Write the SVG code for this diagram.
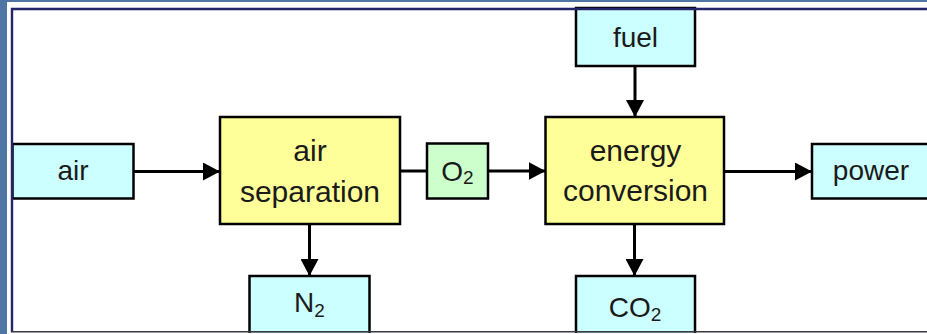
<svg xmlns="http://www.w3.org/2000/svg" width="927" height="334" viewBox="0 0 927 334">
  <defs>
    <style>
      .box { stroke: #000; stroke-width: 2.5; }
      .src { fill: #ccffff; }
      .proc { fill: #ffff99; }
      .gas { fill: #ccffcc; }
      .lbl { font-family: "Liberation Sans", Arial, sans-serif; fill: #1a1a1a; text-anchor: middle; }
      .big { font-size: 30px; }
      .small { font-size: 28px; }
      .sub { font-size: 19px; }
      .wire { stroke: #000; stroke-width: 3; fill: none; }
    </style>
    <marker id="arrow" markerUnits="userSpaceOnUse" markerWidth="18" markerHeight="18" viewBox="0 0 18 18" refX="17" refY="9" orient="auto">
      <path d="M0,0 L17,9 L0,18 Z" fill="#000"/>
    </marker>
  </defs>

  <!-- slide background and page -->
  <rect x="0" y="0" width="927" height="334" fill="#4f75a5"/>
  <rect x="7" y="2" width="920" height="332" fill="#fdfdfd"/>
  <rect x="11" y="9" width="916" height="323" fill="#ffffff"/>

  <!-- connectors -->
  <g id="connectors">
    <line class="wire" x1="133" y1="171.5" x2="220" y2="171.5" marker-end="url(#arrow)"/>
    <line class="wire" x1="400" y1="171" x2="427" y2="171"/>
    <line class="wire" x1="488" y1="171" x2="545.5" y2="171" marker-end="url(#arrow)"/>
    <line class="wire" x1="635" y1="66" x2="635" y2="117" marker-end="url(#arrow)"/>
    <line class="wire" x1="724" y1="171.5" x2="812" y2="171.5" marker-end="url(#arrow)"/>
    <line class="wire" x1="309.5" y1="224" x2="309.5" y2="276" marker-end="url(#arrow)"/>
    <line class="wire" x1="634.5" y1="224" x2="634.5" y2="276" marker-end="url(#arrow)"/>
  </g>

  <g id="air">
    <rect class="box src" x="12.5" y="144" width="121" height="54.5"/>
    <text class="lbl small" x="73" y="179.5">air</text>
  </g>

  <g id="air-separation">
    <rect class="box proc" x="220" y="117" width="180" height="107"/>
    <text class="lbl big" x="310" y="160.5">air</text>
    <text class="lbl big" x="310" y="201.5">separation</text>
  </g>

  <g id="o2">
    <rect class="box gas" x="427" y="143.5" width="61" height="55"/>
    <text class="lbl small" x="457.5" y="181">O<tspan class="sub" dy="3">2</tspan></text>
  </g>

  <g id="fuel">
    <rect class="box src" x="576" y="8" width="119" height="58"/>
    <text class="lbl small" x="635.5" y="47">fuel</text>
  </g>

  <g id="energy-conversion">
    <rect class="box proc" x="545.5" y="117" width="178.5" height="107"/>
    <text class="lbl big" x="635.5" y="160.5">energy</text>
    <text class="lbl big" x="635.5" y="201">conversion</text>
  </g>

  <g id="power">
    <rect class="box src" x="812" y="144" width="120" height="54.5"/>
    <text class="lbl small" x="871" y="179.5">power</text>
  </g>

  <g id="n2">
    <rect class="box src" x="249.5" y="276" width="120" height="58"/>
    <text class="lbl small" x="309.5" y="312">N<tspan class="sub" dy="4.5">2</tspan></text>
  </g>

  <g id="co2">
    <rect class="box src" x="576" y="276" width="119" height="58"/>
    <text class="lbl small" x="635" y="316.5">CO<tspan class="sub" dy="4.5">2</tspan></text>
  </g>

  <!-- page frame -->
  <rect x="7" y="326" width="920" height="8" fill="#ffffff" opacity="0"/>
  <line x1="11" y1="9" x2="927" y2="9" stroke="#24246a" stroke-width="2.6"/>
  <line x1="12" y1="8" x2="12" y2="332" stroke="#24246a" stroke-width="2.4"/>
  <line x1="11" y1="331.8" x2="927" y2="331.8" stroke="#3a3a44" stroke-width="1.6"/>
  <rect x="11" y="333" width="916" height="1" fill="#ffffff"/>
</svg>
